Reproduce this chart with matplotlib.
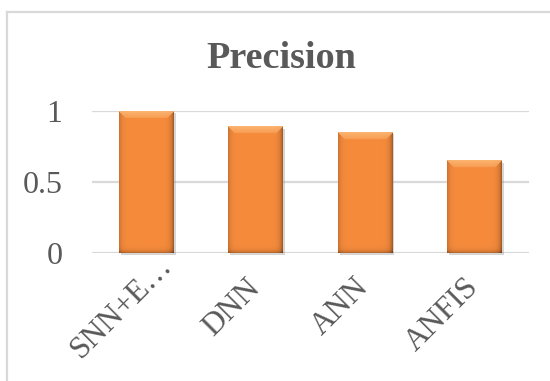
import numpy as np
import matplotlib
matplotlib.use("Agg")
import matplotlib.pyplot as plt
from matplotlib import patheffects
from matplotlib.lines import Line2D
from matplotlib.transforms import ScaledTranslation

# chart data
models = ["SNN+E\u2026", "DNN", "ANN", "ANFIS"]
precision = [1.0, 0.89, 0.85, 0.65]
y_ticks = [0, 0.5, 1]
y_tick_labels = ["0", "0.5", "1"]

plt.rcParams['font.family'] = 'serif'
plt.rcParams['font.serif'] = ['Liberation Serif', 'DejaVu Serif']
FONT = 'Liberation Serif'

TEXT = '#595959'
GRID = '#D9D9D9'
ORANGE = np.array([0.965, 0.545, 0.235])
LIGHT = np.array([0.99, 0.74, 0.48])
LABEL_SIZE = 22.5


def shade_bar(ax, bar):
    """Overlay a bevelled gradient on one bar, sized from the bar patch."""
    x0, y0 = bar.get_x(), bar.get_y()
    w, h = bar.get_width(), bar.get_height()
    (px0, py0), (px1, py1) = ax.transData.transform([(x0, y0), (x0 + w, y0 + h)])
    wpx = max(int(round(px1 - px0)), 2)
    hpx = max(int(round(py1 - py0)), 2)
    X, Y = np.meshgrid(np.arange(wpx) + 0.5, np.arange(hpx) + 0.5)
    dl, dr, dt, db = X, wpx - X, Y, hpx - Y

    shade = np.ones_like(X)
    shade -= 0.40 * np.exp(-dr / 2.5) + 0.20 * np.exp(-dl / 2.5) + 0.30 * np.exp(-db / 2.0)
    img = ORANGE[None, None, :] * shade[..., None]

    # chamfered light strip along the top
    bevel = 7.0
    top = (dt < bevel) & (dt <= dl) & (dt <= dr)
    mix = np.clip(1.0 - dt / bevel, 0, 1) * 0.5 + 0.35
    img[top] = img[top] * (1 - mix[top, None]) + LIGHT * mix[top, None]
    img = np.clip(img, 0, 1)

    ax.imshow(img, extent=(x0, x0 + w, y0, y0 + h), origin='upper',
              aspect='auto', interpolation='bilinear', zorder=3, clip_on=False)


fig = plt.figure(figsize=(5.5, 3.81), dpi=100)
ax = fig.add_axes([91.6 / 550, 1 - 252.7 / 381, 437.2 / 550, 141.7 / 381])

xs = np.arange(len(models))
bars = ax.bar(xs, precision, width=0.5, color=ORANGE, zorder=2, clip_on=False)
for bar in bars:
    bar.set_path_effects([
        patheffects.SimplePatchShadow(offset=(1.5, -1.5), shadow_rgbFace='#8a8a8a', alpha=0.35),
        patheffects.Normal(),
    ])

ax.set_xlim(-0.5, len(models) - 0.5)
ax.set_ylim(0, 1)

for bar in bars:
    shade_bar(ax, bar)

ax.set_xlim(-0.5, len(models) - 0.5)
ax.set_ylim(0, 1)

ax.set_yticks(y_ticks)
ax.set_yticklabels(y_tick_labels, fontsize=23, color=TEXT, family=FONT)
ax.set_xticks(xs)
ax.set_xticklabels(models, rotation=45, ha='right', va='center',
                   rotation_mode='anchor', fontsize=LABEL_SIZE, color=TEXT, family=FONT)
ax.tick_params(axis='y', length=0, pad=21)
ax.tick_params(axis='x', length=0, pad=22)

# truncated label: keep the letters where an untruncated label would end
# and let the ellipsis run past the tick
for lbl in ax.get_xticklabels():
    if lbl.get_text().endswith("\u2026"):
        step = LABEL_SIZE * 0.707 / 72
        lbl.set_transform(lbl.get_transform() + ScaledTranslation(step, step, fig.dpi_scale_trans))

ax.yaxis.grid(True, color=GRID, linewidth=1.6)
ax.set_axisbelow(True)
for s in ax.spines.values():
    s.set_visible(False)

fig.text(281.5 / 550, 1 - 68 / 381, "Precision", ha='center', va='baseline',
         fontsize=27.5, fontweight='bold', color=TEXT, family=FONT)

# outer chart frame
fx, fy = 7 / 550, 1 - 12 / 381
fig.add_artist(Line2D([fx, fx], [0, fy], transform=fig.transFigure, color=GRID, linewidth=1.6))
fig.add_artist(Line2D([fx, 1], [fy, fy], transform=fig.transFigure, color=GRID, linewidth=1.6))

fig.savefig("out.png", dpi=100)
